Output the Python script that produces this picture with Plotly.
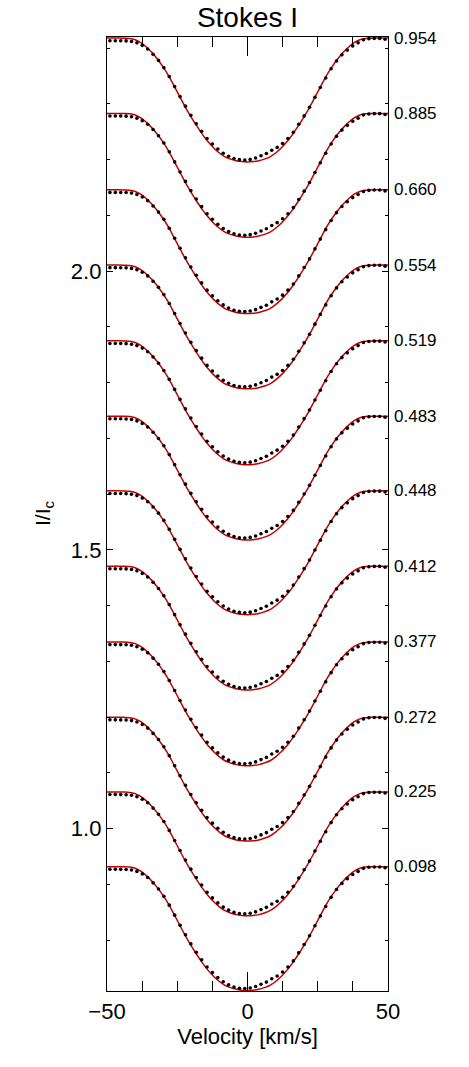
import plotly.graph_objects as go

# Rotational phases (labels on the right) and continuum level of each offset profile
phases = ["0.098", "0.225", "0.272", "0.377", "0.412", "0.448",
          "0.483", "0.519", "0.554", "0.660", "0.885", "0.954"]
continuum_levels = [0.932, 1.066, 1.200, 1.335, 1.471, 1.606,
                    1.740, 1.875, 2.011, 2.146, 2.283, 2.418]

# Observed LSD profile: velocity grid (km/s) and line depth below continuum
obs_velocity = [-48.96, -47.04, -45.12, -43.20, -41.28, -39.36, -37.44, -35.52, -33.60,
                -31.68, -29.76, -27.84, -25.92, -24.00, -22.08, -20.16, -18.24, -16.32,
                -14.40, -12.48, -10.56, -8.64, -6.72, -4.80, -2.88, -0.96,
                0.96, 2.88, 4.80, 6.72, 8.64, 10.56, 12.48, 14.40, 16.32, 18.24,
                20.16, 22.08, 24.00, 25.92, 27.84, 29.76, 31.68, 33.60, 35.52, 37.44,
                39.36, 41.28, 43.20, 45.12, 47.04, 48.96]
obs_depth = [0.0047, 0.0047, 0.0048, 0.0050, 0.0060, 0.0085, 0.0130, 0.0195, 0.0290,
             0.0400, 0.0530, 0.0690, 0.0870, 0.1050, 0.1220, 0.1385, 0.1535, 0.1670,
             0.1800, 0.1900, 0.1990, 0.2065, 0.2120, 0.2160, 0.2180, 0.2185,
             0.2175, 0.2150, 0.2110, 0.2070, 0.2010, 0.1960, 0.1890, 0.1800, 0.1690, 0.1545,
             0.1395, 0.1240, 0.1060, 0.0885, 0.0715, 0.0550, 0.0410, 0.0300, 0.0215, 0.0140,
             0.0085, 0.0030, 0.0010, 0.0005, 0.0005, 0.0020]

# Model profile (red line)
model_velocity = [-50, -48, -46, -44, -42, -40, -38, -36, -34, -32, -30, -28, -26,
                  -24, -22, -20, -18, -16, -14, -12, -10, -8, -6, -4, -2, 0,
                  2, 4, 6, 8, 10, 12, 14, 16, 18, 20, 22, 24, 26,
                  28, 30, 32, 34, 36, 38, 40, 42, 44, 46, 48, 50]
model_depth = [0.0, 0.0, 0.0, 0.0002, 0.0008, 0.003, 0.008, 0.016, 0.026, 0.038, 0.052,
               0.068, 0.087, 0.106, 0.125, 0.142, 0.158, 0.173, 0.186, 0.197, 0.206,
               0.213, 0.217, 0.220, 0.2215, 0.222,
               0.2215, 0.220, 0.217, 0.213, 0.206, 0.197, 0.186, 0.173, 0.158, 0.142,
               0.125, 0.106, 0.087, 0.068, 0.052, 0.038, 0.026, 0.016, 0.008, 0.003,
               0.0008, 0.0002, 0.0, 0.0, 0.0]

FONT = "Liberation Sans, Arial, Helvetica, sans-serif"
RED = "rgb(195,0,0)"

W, H = 469, 1067
ML, MR, MT, MB = 107, 81, 37, 76

fig = go.Figure()

for lvl in continuum_levels:
    fig.add_trace(go.Scatter(
        x=model_velocity, y=[lvl - d for d in model_depth],
        mode="lines", line=dict(color=RED, width=1.5, shape="spline"),
        hoverinfo="skip", showlegend=False))

for lvl in continuum_levels:
    fig.add_trace(go.Scatter(
        x=obs_velocity, y=[lvl - d for d in obs_depth],
        mode="markers", marker=dict(color="black", size=3.6),
        showlegend=False))

for lvl, ph in zip(continuum_levels, phases):
    fig.add_annotation(x=1, xref="paper", y=lvl, yref="y", text=ph,
                       showarrow=False, xanchor="left", yanchor="middle", xshift=4,
                       font=dict(size=17, color="black", family=FONT))

plot_w = W - ML - MR
fig.add_annotation(x=(44 - ML) / plot_w, xref="paper", y=0.5, yref="paper",
                   text="I/I<sub>c</sub>", textangle=-90, showarrow=False,
                   xanchor="center", yanchor="middle",
                   font=dict(size=21, color="black", family=FONT))

fig.update_layout(
    width=W, height=H,
    margin=dict(l=ML, r=MR, t=MT, b=MB),
    paper_bgcolor="white", plot_bgcolor="white",
    font=dict(family=FONT, color="black"),
    title=dict(text="Stokes I", x=(ML + plot_w / 2) / W, xanchor="center",
               y=1 - 17 / H, yref="container", yanchor="middle",
               font=dict(size=28, color="black", family=FONT)),
    xaxis=dict(range=[-50, 50], tickmode="linear", tick0=0, dtick=50,
               showline=True, linecolor="black", linewidth=1.3, mirror="ticks",
               ticks="inside", ticklen=19, tickwidth=1.2, tickcolor="black",
               minor=dict(dtick=12.5, tick0=0, ticks="inside", ticklen=9.5,
                          tickwidth=1.2, tickcolor="black"),
               showgrid=False, zeroline=False, automargin=False,
               tickfont=dict(size=22, family=FONT, color="black"),
               title=dict(text="Velocity [km/s]", standoff=6,
                          font=dict(size=22, family=FONT, color="black"))),
    yaxis=dict(range=[0.709, 2.42], tickmode="linear", tick0=0, dtick=0.5,
               tickformat=".1f",
               showline=True, linecolor="black", linewidth=1.3, mirror="ticks",
               ticks="inside", ticklen=6, tickwidth=1.2, tickcolor="black",
               minor=dict(dtick=0.1, tick0=0, ticks="inside", ticklen=3,
                          tickwidth=1.2, tickcolor="black"),
               showgrid=False, zeroline=False, automargin=False,
               tickfont=dict(size=22, family=FONT, color="black")),
)

# remove the browser's default 8 px body margin so the figure fills the window
fig.write_html("out.html", config={"displayModeBar": False},
               post_script="document.body.style.margin='0';")
